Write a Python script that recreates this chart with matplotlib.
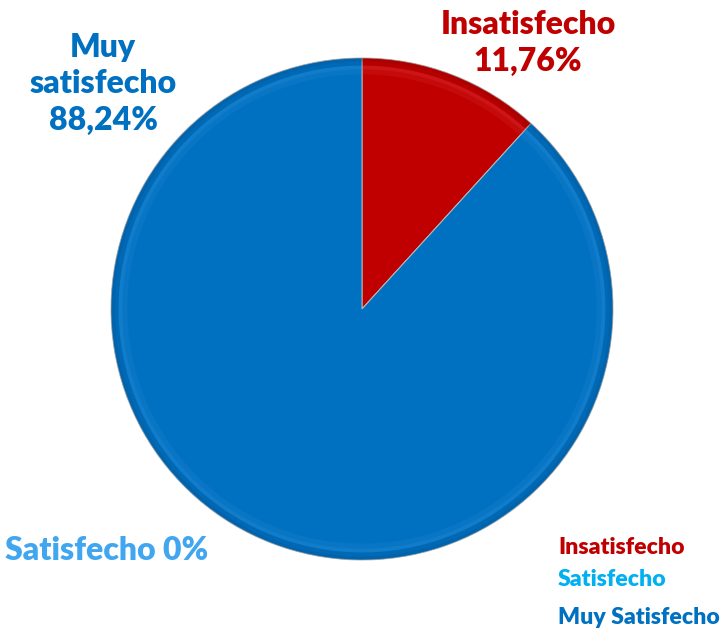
import matplotlib
matplotlib.use("Agg")
import matplotlib.pyplot as plt
from matplotlib.patches import Wedge

categories = ["Insatisfecho", "Satisfecho", "Muy Satisfecho"]
shares = [11.76, 0.0, 88.24]
colors = ["#C00000", "#00B0F0", "#0070C0"]
light = ["#E8474A", "#5CCBF5", "#3A9BE0"]
dark = ["#8E0000", "#0088C0", "#00508F"]

plt.rcParams["font.family"] = ["Lato", "DejaVu Sans"]
WEIGHT = 800

W, H = 727, 630
fig = plt.figure(figsize=(W / 100, H / 100), dpi=100)
ax = fig.add_axes([0, 0, 1, 1])

cx, cy, R = 362, H - 309, 251
wedges, _ = ax.pie(shares, colors=colors, startangle=90, counterclock=False,
                   center=(cx, cy), radius=R, frame=True,
                   wedgeprops=dict(edgecolor="#B8B8B8", linewidth=0.7))
ax.set_xlim(0, W)
ax.set_ylim(0, H)
ax.set_aspect("equal")
ax.axis("off")

# bevel: soft highlight band inside the rim, darker rim outside it
for w, lc, dc in zip(wedges, light, dark):
    if w.theta2 - w.theta1 <= 0:
        continue
    for r0, r1, c, a in [(0.935, 0.955, lc, 0.15), (0.955, 0.97, lc, 0.3),
                         (0.97, 0.985, dc, 0.2), (0.985, 1.0, dc, 0.4)]:
        ax.add_patch(Wedge((cx, cy), R * r1, w.theta1, w.theta2,
                           width=R * (r1 - r0), facecolor=c, alpha=a,
                           edgecolor="none"))

# data labels
ax.text(528, H - 43, "Insatisfecho\n11,76%", color=colors[0], fontsize=23,
        fontweight=WEIGHT, ha="center", va="center", linespacing=1.3)
ax.text(103, H - 84, "Muy\nsatisfecho\n88,24%", color=colors[2], fontsize=23,
        fontweight=WEIGHT, ha="center", va="center", linespacing=1.3)
ax.text(5, H - 550, "Satisfecho 0%", color="#41A6F0", fontsize=23,
        fontweight=WEIGHT, ha="left", va="center")

# legend as coloured text entries
for name, c, y in zip(categories, colors, [548, 580, 617]):
    ax.text(558, H - y, name, color=c, fontsize=16.6, fontweight=WEIGHT,
            ha="left", va="center")

fig.savefig("out.png", dpi=100)
